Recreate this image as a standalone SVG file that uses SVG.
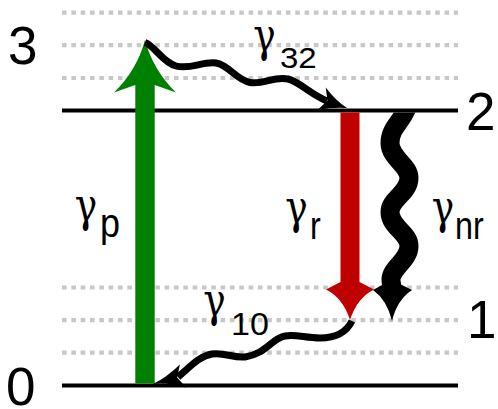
<svg xmlns="http://www.w3.org/2000/svg" width="498" height="409" viewBox="0 0 498 409">
<style>
.dot{stroke:#c8c8c8;stroke-width:4.2;stroke-dasharray:4.6 4.73;fill:none}
.lvl{stroke:#000;stroke-width:4;fill:none}
.num{font-family:"Liberation Sans",Arial,sans-serif;font-size:53px;fill:#000}
.g{font-family:"DejaVu Serif",serif;font-size:47px;fill:#000;text-anchor:middle}
.sub{font-family:"Liberation Sans",Arial,sans-serif;fill:#000}
.wave{fill:none;stroke:#000;stroke-width:7}
</style>
<defs>
<clipPath id="below2"><rect x="300" y="112.5" width="198" height="300"/></clipPath>
</defs>
<g id="level-3">
<line class="dot" x1="62" y1="12.7" x2="458" y2="12.7"/>
<line class="dot" x1="62" y1="45.2" x2="458" y2="45.2"/>
<line class="dot" x1="62" y1="78" x2="458" y2="78"/>
<text class="num" x="8" y="64">3</text>
</g>
<g id="level-2">
<line class="lvl" x1="62" y1="110.6" x2="458" y2="110.6"/>
<text class="num" x="466" y="130">2</text>
</g>
<g id="level-1">
<line class="dot" x1="62" y1="287.5" x2="458" y2="287.5"/>
<line class="dot" x1="62" y1="320.2" x2="458" y2="320.2"/>
<line class="dot" x1="62" y1="352.7" x2="458" y2="352.7"/>
<text class="num" x="467" y="338">1</text>
</g>
<g id="level-0">
<line class="lvl" x1="62" y1="385.5" x2="458" y2="385.5"/>
<text class="num" x="6" y="405">0</text>
</g>
<g id="connectors">
<g id="pump">
<path fill="#008000" d="M135.3,383.5 L135.3,85 L114,92.5 Q137,70 145,40 Q153,70 176,92.5 L154.7,85 L154.7,383.5 Z"/>
<text class="g" transform="translate(86,221) scale(0.8,1)">γ</text>
<text class="sub" font-size="40" transform="translate(100,237) scale(0.9,1)">p</text>
</g>
<g id="g32">
<path class="wave" d="M145,42.5 C155,46 162,62 176,66 C190,70 203,61 216,63 C229,65 236,80 250,82.5 C263,85 274,76 288,79 C300,82 310,94 327,101"/>
<path fill="#000" d="M347,108 Q336,101 325.7,87.5 L327.5,100.5 L317.5,110 Q333,107 347,108 Z"/>
<text class="g" transform="translate(264.5,51) scale(0.8,1)">γ</text>
<text class="sub" font-size="30" transform="translate(280,68) scale(1.1,1)">32</text>
</g>
<g id="radiative">
<path fill="#c00000" d="M340.5,112.5 L340.5,282 L326,289.5 Q343,298 350,320 Q357,298 374,289.5 L359.5,282 L359.5,112.5 Z"/>
<text class="g" transform="translate(296.5,223) scale(0.8,1)">γ</text>
<text class="sub" font-size="38" transform="translate(310,239) scale(0.85,1)">r</text>
</g>
<g id="nonradiative">
<path clip-path="url(#below2)" fill="none" stroke="#000" stroke-width="19" d="M412,92 L410,100 C404,122 390,126 390,143 C390,158 409,165 409,178 C409,193 390,199 390,212 C390,227 409,233 409,246 C409,261 391,267 391,280 C391,283 392,285 392,289"/>
<path fill="#000" d="M373,290 Q387,300 392,321 Q397,300 412,290 L401,284.5 L383,284.5 Z"/>
<text class="g" transform="translate(443,223) scale(0.8,1)">γ</text>
<text class="sub" font-size="38" transform="translate(455,239) scale(0.85,1)">nr</text>
</g>
<g id="g10">
<path class="wave" d="M352,321 C347,331 337,338 320,338 C305,338 296,334 285,336 C272,338 266,354 245,357 C232,358 224,352 212,354 C200,356 192,365 178,377"/>
<path fill="#000" d="M153,384 Q167,377 179.9,364.4 L177.2,377.5 L186.1,387.6 Q168,382 153,384 Z"/>
<text class="g" transform="translate(214.5,316) scale(0.8,1)">γ</text>
<text class="sub" font-size="31" transform="translate(231,335) scale(1.1,1)">10</text>
</g>
</g>
</svg>
